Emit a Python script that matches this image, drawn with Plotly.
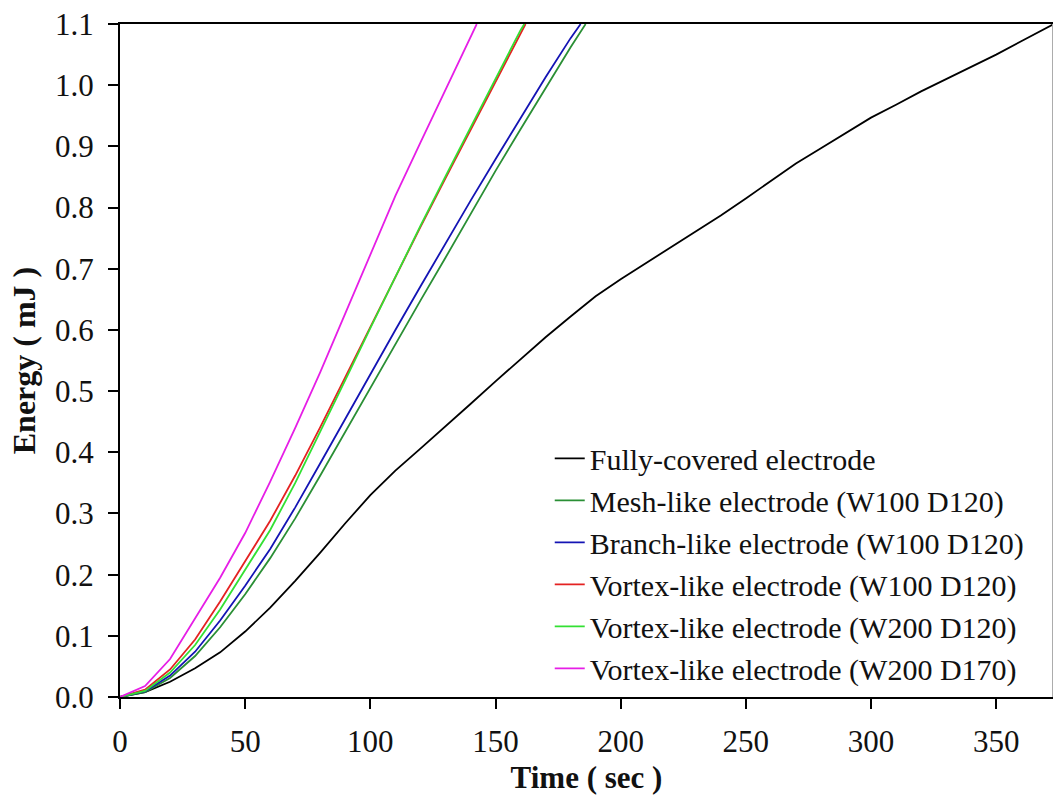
import plotly.graph_objects as go

# ---- data ----
t_full = [0, 10, 20, 30, 40, 50, 60, 70, 80, 90, 100, 110, 120, 130, 140, 150, 160, 170, 180, 190,
          200, 210, 220, 230, 240, 250, 260, 270, 280, 290, 300, 310, 320, 330, 340, 350, 360, 373]
e_full = [0, 0.008, 0.025, 0.047, 0.073, 0.107, 0.146, 0.19, 0.236, 0.284, 0.330, 0.370, 0.406, 0.442,
          0.479, 0.516, 0.552, 0.588, 0.622, 0.655, 0.683, 0.709, 0.735, 0.761, 0.787, 0.815, 0.844,
          0.872, 0.897, 0.922, 0.947, 0.968, 0.99, 1.01, 1.03, 1.05, 1.072, 1.1]

t_mesh = [0, 10, 20, 30, 40, 50, 60, 70, 80, 90, 100, 110, 120, 130, 140, 150, 160, 170, 180, 186]
e_mesh = [0, 0.008, 0.031, 0.067, 0.114, 0.168, 0.227, 0.292, 0.362, 0.434, 0.506, 0.577, 0.648,
          0.718, 0.79, 0.86, 0.928, 0.996, 1.062, 1.1]

t_branch = [0, 10, 20, 30, 40, 50, 60, 70, 80, 90, 100, 110, 120, 130, 140, 150, 160, 170, 180, 184]
e_branch = [0, 0.009, 0.035, 0.074, 0.125, 0.182, 0.242, 0.31, 0.382, 0.455, 0.528, 0.6, 0.671,
            0.742, 0.811, 0.879, 0.946, 1.013, 1.077, 1.1]

t_v1 = [0, 10, 20, 30, 40, 50, 60, 70, 80, 90, 100, 110, 120, 130, 140, 150, 160, 162]
e_v1 = [0, 0.012, 0.045, 0.094, 0.156, 0.222, 0.288, 0.362, 0.441, 0.523, 0.605, 0.687, 0.768,
        0.848, 0.927, 1.006, 1.086, 1.1]

t_v2 = [0, 10, 20, 30, 40, 50, 60, 70, 80, 90, 100, 110, 120, 130, 140, 150, 160, 161.5]
e_v2 = [0, 0.01, 0.04, 0.085, 0.143, 0.207, 0.273, 0.35, 0.433, 0.518, 0.603, 0.687, 0.77,
        0.851, 0.931, 1.011, 1.09, 1.1]

t_v3 = [0, 10, 20, 30, 40, 50, 60, 70, 80, 90, 100, 110, 120, 130, 140, 142.5]
e_v3 = [0, 0.018, 0.062, 0.128, 0.195, 0.268, 0.352, 0.44, 0.531, 0.627, 0.724, 0.819, 0.906,
        0.993, 1.078, 1.1]

names = ["Fully-covered electrode",
         "Mesh-like electrode (W100 D120)",
         "Branch-like electrode (W100 D120)",
         "Vortex-like electrode (W100 D120)",
         "Vortex-like electrode (W200 D120)",
         "Vortex-like electrode (W200 D170)"]
colors = ["#000000", "#2a8f35", "#1414b4", "#e42222", "#33e033", "#e61ee6"]
series = [(t_full, e_full), (t_mesh, e_mesh), (t_branch, e_branch),
          (t_v1, e_v1), (t_v2, e_v2), (t_v3, e_v3)]

x_ticks = [0, 50, 100, 150, 200, 250, 300, 350]
y_ticks = [0.0, 0.1, 0.2, 0.3, 0.4, 0.5, 0.6, 0.7, 0.8, 0.9, 1.0, 1.1]

FONT = "Liberation Serif, Times New Roman, serif"

fig = go.Figure()
for (tx, ey), nm, c in zip(series, names, colors):
    fig.add_trace(go.Scatter(x=tx, y=ey, mode="lines", name=nm,
                             line=dict(color=c, width=1.8)))

fig.update_layout(
    width=1053, height=795,
    margin=dict(l=120, r=0, t=24, b=98, autoexpand=False),
    paper_bgcolor="white", plot_bgcolor="white",
    font=dict(family=FONT, size=30, color="black"),
    showlegend=True,
    legend=dict(x=0.4606, xanchor="left", y=0.004, yanchor="bottom",
                bgcolor="rgba(255,255,255,0)", borderwidth=0,
                font=dict(family=FONT, size=30, color="#111"),
                tracegroupgap=0, itemwidth=30),
    shapes=[dict(type="line", xref="paper", yref="paper", x0=0.9995, x1=0.9995, y0=0, y1=1,
                 line=dict(color="#aaaaaa", width=1))],
)
fig.update_xaxes(range=[0, 372.7], tickvals=x_ticks, ticktext=[str(v) for v in x_ticks],
                 automargin=False,
                 showgrid=False, zeroline=False, showline=True, linecolor="black", linewidth=2,
                 mirror=True, ticks="outside", ticklen=10, tickwidth=2, tickcolor="black",
                 ticklabelstandoff=6,
                 tickfont=dict(family=FONT, size=31, color="#111"),
                 title=dict(text="<b>Time ( sec )</b>", font=dict(family=FONT, size=31, color="#111"),
                            standoff=21))
fig.update_yaxes(range=[0, 1.1001], tickvals=y_ticks, ticktext=[f"{v:.1f}" for v in y_ticks],
                 automargin=False,
                 showgrid=False, zeroline=False, showline=True, linecolor="black", linewidth=2,
                 ticks="outside", ticklen=10, tickwidth=2, tickcolor="black",
                 ticklabelstandoff=8,
                 tickfont=dict(family=FONT, size=31, color="#111"),
                 title=dict(text="<b>Energy ( mJ )</b>", font=dict(family=FONT, size=32, color="#111"),
                            standoff=10))

# remove the browser's default 8px body margin so the figure fills the window exactly
fig.write_html("out.html", config={"displayModeBar": False},
               post_script="document.body.style.margin='0';document.body.style.overflow='hidden';")
